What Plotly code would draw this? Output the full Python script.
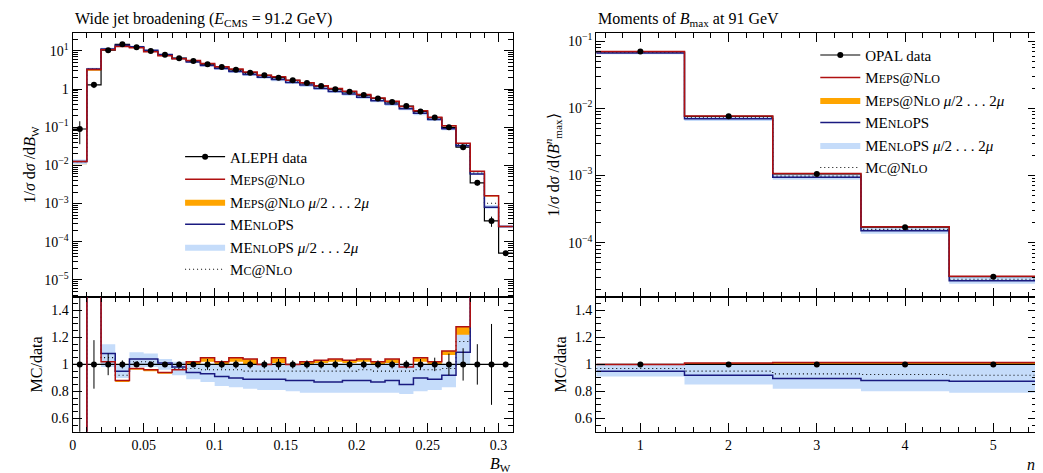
import numpy as np
import plotly.graph_objects as go

# ---- left: wide jet broadening ----
bw_edges = [round(0.01 * i, 2) for i in range(32)]
aleph = [0.09, 1.3, 10.5, 15, 12.5, 10, 8, 6.5, 5.5, 4.5, 3.8, 3.2, 2.7, 2.3, 2.0, 1.7,
         1.45, 1.2, 1.0, 0.85, 0.7, 0.57, 0.46, 0.36, 0.26, 0.18, 0.1, 0.03, 0.0035,
         0.00035, 0.00005]
aleph_relerr = [0.6, 0.18, 0.08, 0.03, 0.02, 0.02, 0.02, 0.02, 0.02, 0.04, 0.03, 0.03,
                0.03, 0.03, 0.04, 0.03, 0.03, 0.03, 0.03, 0.03, 0.03, 0.03, 0.03, 0.03,
                0.04, 0.05, 0.08, 0.12, 0.15, 0.3, 0.02]
r_meps = [0.14, 2.5, 1.02, 0.88, 0.97, 0.96, 0.94, 0.96, 1.02, 1.05, 1.02, 1.05, 1.04,
          1.0, 1.05, 1.0, 1.02, 1.03, 1.04, 1.03, 1.04, 1.02, 1.04, 0.98, 1.05, 1.02,
          1.10, 1.28, 2.0, 4.6, 5.0]
r_meps_lo = [0.12, 2.3, 1.0, 0.87, 0.96, 0.95, 0.93, 0.95, 0.99, 1.02, 0.98, 1.02,
             1.0, 0.95, 1.01, 0.98, 1.0, 1.01, 1.02, 1.01, 1.02, 1.0, 1.01, 0.96, 1.02,
             1.0, 1.07, 1.2, 1.9, 4.4, 4.8]
r_menlo = [0.14, 2.6, 1.08, 0.95, 1.04, 1.04, 1.01, 0.98, 0.94, 0.93, 0.91, 0.9, 0.89,
           0.89, 0.89, 0.88, 0.88, 0.87, 0.87, 0.88, 0.88, 0.87, 0.88, 0.85, 0.9, 0.89,
           0.92, 1.09, 1.7, 2.3, 5.0]
r_menlo_lo = [0.12, 2.4, 0.98, 0.9, 0.98, 0.98, 0.96, 0.92, 0.89, 0.87, 0.84, 0.83,
              0.82, 0.81, 0.81, 0.8, 0.79, 0.79, 0.79, 0.79, 0.79, 0.79, 0.79, 0.78,
              0.8, 0.81, 0.83, 1.0, 1.6, 2.1, 4.6]
r_menlo_hi = [0.16, 2.8, 1.15, 1.0, 1.09, 1.08, 1.04, 1.02, 1.0, 1.0, 1.0, 1.0, 1.0,
              1.0, 1.0, 1.0, 1.0, 1.0, 1.0, 1.0, 1.0, 1.0, 1.0, 1.0, 1.0, 1.0, 1.0, 1.22,
              1.9, 2.6, 5.4]
r_mcnlo = [0.14, 2.6, 1.05, 0.92, 1.02, 1.02, 1.0, 0.97, 0.97, 0.96, 0.96, 0.96, 0.95,
           0.95, 0.95, 0.95, 0.95, 0.95, 0.95, 0.95, 0.96, 0.95, 0.95, 0.95, 0.96, 0.96,
           0.97, 1.17, 1.8, 2.9, 5.0]

# ---- right: moments of B_max ----
n_edges = [0.5, 1.5, 2.5, 3.5, 4.5, 5.5]
opal = [0.07, 0.0076, 0.00105, 0.00017, 0.000031]
opal_relerr = [0.01, 0.01, 0.01, 0.01, 0.01]
m_meps = [1.0, 1.01, 1.015, 1.015, 1.015]
m_meps_lo = [0.99, 0.99, 0.995, 0.995, 0.995]
m_menlo = [0.95, 0.92, 0.895, 0.88, 0.875]
m_menlo_lo = [0.91, 0.85, 0.82, 0.8, 0.79]
m_menlo_hi = [1.0, 1.0, 1.0, 1.0, 1.0]
m_mcnlo = [0.97, 0.95, 0.93, 0.925, 0.92]

RED = "#b01010"
ORANGE = "#ffa500"
BLUE = "#1a1a80"
LBLUE = "#c5dcfa"
FONT = "Liberation Serif"

def sc(s):
    return "<span style='font-size:12px'>" + s + "</span>"

NAME_MEPS = "M" + sc("EPS") + "@N" + sc("LO")
NAME_MENLO = "ME" + sc("NLO") + "PS"
NAME_MCNLO = "M" + sc("C") + "@N" + sc("LO")
MU = " <i>μ</i>/2 . . . 2<i>μ</i>"

fig = go.Figure()

def step(edges, vals):
    return list(edges), list(vals) + [vals[-1]]

def band(edges, lo, hi):
    xs, ys = [], []
    for i in range(len(hi)):
        xs += [edges[i], edges[i + 1]]
        ys += [hi[i], hi[i]]
    for i in reversed(range(len(lo))):
        xs += [edges[i + 1], edges[i]]
        ys += [lo[i], lo[i]]
    return xs, ys

def panel(edges, data, relerr, meps, meps_lo, menlo, menlo_lo, menlo_hi, mcnlo,
          xm, ym, xr, yr, dataname, legend):
    data = np.array(data)
    centers = [(edges[i] + edges[i + 1]) / 2 for i in range(len(data))]
    for (xa, ya, scale) in [(xm, ym, data), (xr, yr, np.ones(len(data)))]:
        main = scale is data
        lg = main
        bx, by = band(edges, np.array(meps_lo) * scale, np.array(meps) * scale)
        fig.add_trace(go.Scatter(x=bx, y=by, fill="toself", fillcolor=ORANGE,
                                 line=dict(width=0), mode="lines", xaxis=xa, yaxis=ya,
                                 name=NAME_MEPS + MU, legend=legend, legendrank=3,
                                 showlegend=lg, hoverinfo="skip"))
        bx, by = band(edges, np.array(menlo_lo) * scale, np.array(menlo_hi) * scale)
        fig.add_trace(go.Scatter(x=bx, y=by, fill="toself", fillcolor=LBLUE,
                                 line=dict(width=0), mode="lines", xaxis=xa, yaxis=ya,
                                 name=NAME_MENLO + MU, legend=legend, legendrank=5,
                                 showlegend=lg, hoverinfo="skip"))
        sx, sy = step(edges, data if main else np.ones(len(data)))
        fig.add_trace(go.Scatter(x=sx, y=sy, line=dict(color="black", width=1.2, shape="hv"),
                                 mode="lines", xaxis=xa, yaxis=ya, showlegend=False))
        for vals, col, dash, nm, rk in [(mcnlo, "black", "1px,3px", NAME_MCNLO, 6),
                                        (menlo, BLUE, "solid", NAME_MENLO, 4),
                                        (meps, RED, "solid", NAME_MEPS, 2)]:
            sx, sy = step(edges, np.array(vals) * scale)
            fig.add_trace(go.Scatter(x=sx, y=sy, mode="lines",
                                     line=dict(color=col, width=1.1 if col == "black" else 1.5,
                                               dash=dash, shape="hv"),
                                     xaxis=xa, yaxis=ya, name=nm, legend=legend,
                                     legendrank=rk, showlegend=lg))
        yv = data if main else np.ones(len(data))
        fig.add_trace(go.Scatter(x=centers, y=yv, mode="markers",
                                 marker=dict(color="black", size=6),
                                 error_y=dict(type="data", array=np.array(relerr) * yv,
                                              color="black", thickness=1, width=0),
                                 xaxis=xa, yaxis=ya, name=dataname, showlegend=False))
        if lg:
            fig.add_trace(go.Scatter(x=[None], y=[None], mode="lines+markers",
                                     marker=dict(color="black", size=6),
                                     line=dict(color="black", width=1.2),
                                     xaxis=xa, yaxis=ya, name=dataname, legend=legend,
                                     legendrank=1))

panel(bw_edges, aleph, aleph_relerr, r_meps, r_meps_lo, r_menlo, r_menlo_lo, r_menlo_hi,
      r_mcnlo, "x", "y", "x2", "y2", "ALEPH data", "legend")
panel(n_edges, opal, opal_relerr, m_meps, m_meps_lo, m_menlo, m_menlo_lo, m_menlo_hi,
      m_mcnlo, "x3", "y3", "x4", "y4", "OPAL data", "legend2")

ax = dict(showline=True, mirror="allticks", linecolor="black", linewidth=1.2,
          ticks="inside", ticklen=9, tickcolor="black", showgrid=False, zeroline=False,
          automargin=False,
          tickfont=dict(family=FONT, size=14, color="black"),
          minor=dict(ticks="inside", ticklen=5, tickcolor="black"))

def sup(e):
    return "1" if e == 0 else "10<sup>%s</sup>" % (str(e).replace("-", "−"))

TF = dict(family=FONT, size=16)
LF = dict(family=FONT, size=15, color="black")
lx = [0.062, 0.484]
rx = [0.564, 0.987]
ym = [0.389, 0.947]
yr = [0.104, 0.389]
fig.update_layout(
    xaxis=dict(ax, domain=lx, range=[0, 0.31], anchor="y", showticklabels=False,
               dtick=0.05, minor=dict(ax["minor"], dtick=0.01)),
    yaxis=dict(ax, domain=ym, type="log", range=[-5.45, 1.47], anchor="x",
               tickvals=[10.0 ** e for e in range(-5, 2)],
               ticktext=[sup(e) for e in range(-5, 2)],
               minor=dict(ax["minor"], dtick="D1"),
               title=dict(text="1/<i>σ</i> d<i>σ</i> /d<i>B</i><sub>W</sub>",
                          font=TF, standoff=4)),
    xaxis2=dict(ax, domain=lx, range=[0, 0.31], anchor="y2", dtick=0.05,
                minor=dict(ax["minor"], dtick=0.01)),
    yaxis2=dict(ax, domain=yr, range=[0.5, 1.5], anchor="x2",
                tickvals=[0.6, 0.8, 1, 1.2, 1.4], minor=dict(ax["minor"], dtick=0.05),
                title=dict(text="MC/data", font=TF, standoff=4)),
    xaxis3=dict(ax, domain=rx, range=[0.5, 5.5], anchor="y3", showticklabels=False,
                dtick=1, minor=dict(ax["minor"], dtick=0.2)),
    yaxis3=dict(ax, domain=ym, type="log", range=[-4.81, -0.88], anchor="x3",
                tickvals=[10.0 ** e for e in range(-4, 0)],
                ticktext=[sup(e) for e in range(-4, 0)],
                minor=dict(ax["minor"], dtick="D1"),
                title=dict(text="1/<i>σ</i> d<i>σ</i> /d⟨<i>B</i><sup><i>n</i></sup><sub>max</sub>⟩",
                           font=TF, standoff=4)),
    xaxis4=dict(ax, domain=rx, range=[0.5, 5.5], anchor="y4", dtick=1,
                minor=dict(ax["minor"], dtick=0.2)),
    yaxis4=dict(ax, domain=yr, range=[0.5, 1.5], anchor="x4",
                tickvals=[0.6, 0.8, 1, 1.2, 1.4], minor=dict(ax["minor"], dtick=0.05),
                title=dict(text="MC/data", font=TF, standoff=4)),
    legend=dict(x=0.165, y=0.72, xanchor="left", yanchor="top", bgcolor="rgba(0,0,0,0)",
                font=LF, tracegroupgap=0, itemwidth=40),
    legend2=dict(x=0.774, y=0.935, xanchor="left", yanchor="top", bgcolor="rgba(0,0,0,0)",
                 font=LF, tracegroupgap=0, itemwidth=40),
    width=1043, height=473, margin=dict(l=0, r=0, t=0, b=0),
    plot_bgcolor="white", paper_bgcolor="white",
    font=dict(family=FONT, color="black"),
    annotations=[
        dict(text="Wide jet broadening (<i>E</i><sub>CMS</sub> = 91.2 GeV)", x=lx[0], y=1.0,
             xref="paper", yref="paper", xanchor="left", yanchor="top", showarrow=False,
             font=TF),
        dict(text="Moments of <i>B</i><sub>max</sub> at 91 GeV", x=rx[0], y=1.0,
             xref="paper", yref="paper", xanchor="left", yanchor="top", showarrow=False,
             font=TF),
        dict(text="<i>B</i><sub>W</sub>", x=lx[1], y=0.035, xref="paper", yref="paper",
             xanchor="right", yanchor="middle", showarrow=False, font=TF),
        dict(text="<i>n</i>", x=rx[1], y=0.035, xref="paper", yref="paper",
             xanchor="right", yanchor="middle", showarrow=False, font=TF),
    ],
)

fig.write_html("out.html")
